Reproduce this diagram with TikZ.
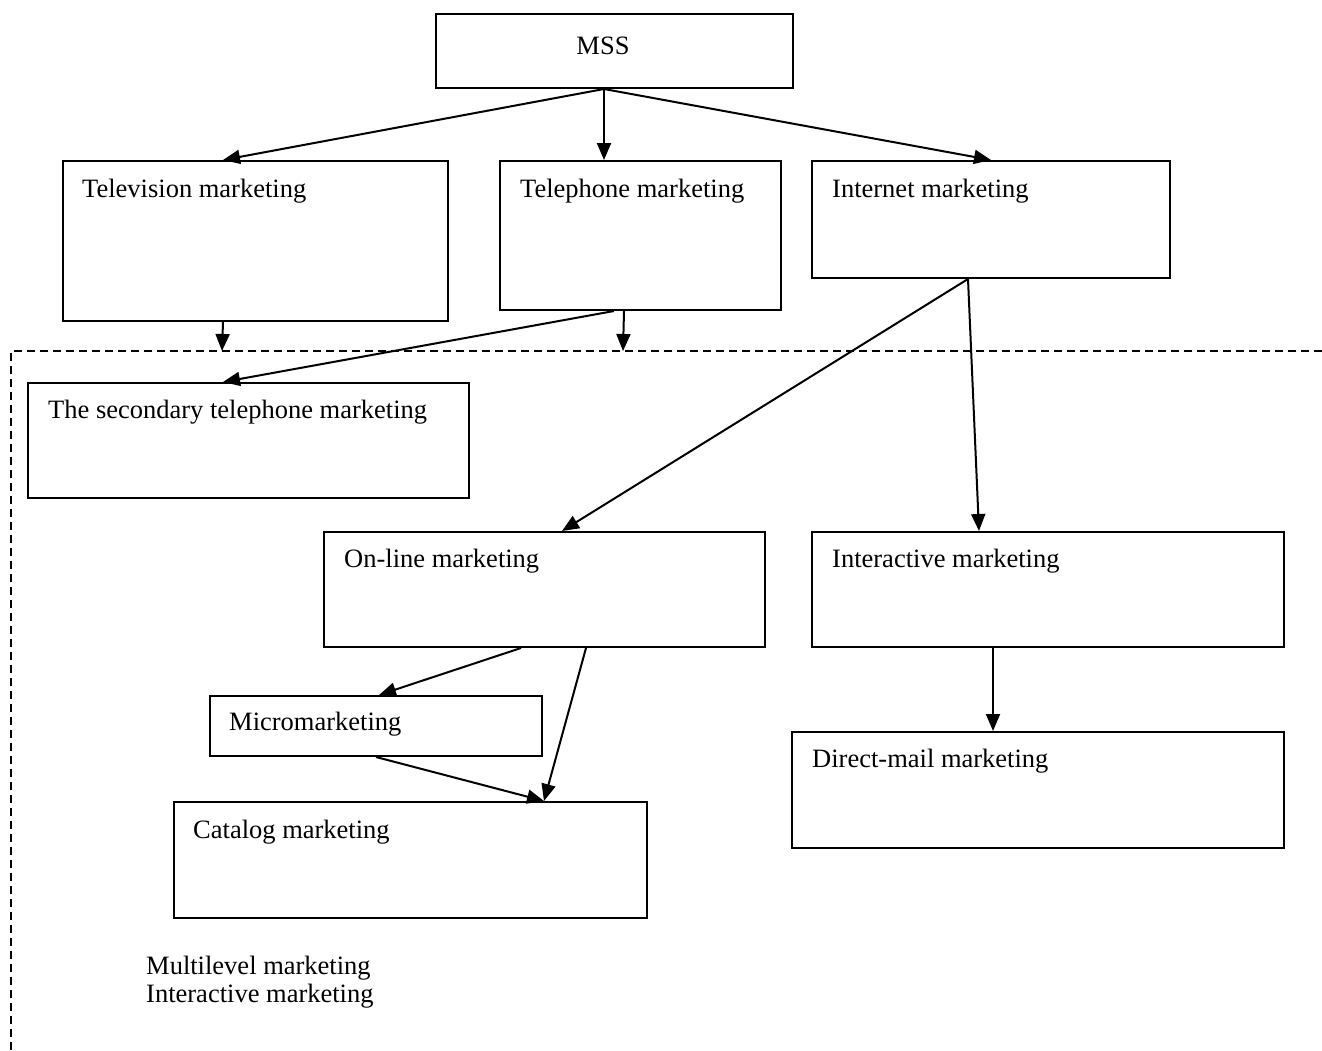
\documentclass[tikz,border=0pt]{standalone}
\usepackage{fontspec}
\setmainfont{Liberation Serif}
\usetikzlibrary{arrows.meta}
\begin{document}
\begin{tikzpicture}[x=1pt,y=-1pt,
  box/.style={draw,line width=2pt,rectangle,anchor=north west,inner sep=0pt},
  lbl/.style={anchor=base west,inner sep=0pt,font=\fontsize{26.5}{31}\selectfont},
  arr/.style={line width=2pt,-{Triangle[length=17pt,width=14pt]}},
  sep/.style={line width=2pt,dash pattern=on 8pt off 5pt}]
\useasboundingbox (0,0) rectangle (1322,1050);
% boxes
\node[box,minimum width=357pt,minimum height=74pt] (mss) at (435,13) {};
\node[box,minimum width=385pt,minimum height=160pt] (tv) at (62,160) {};
\node[box,minimum width=281pt,minimum height=149pt] (tel) at (499,160) {};
\node[box,minimum width=358pt,minimum height=117pt] (inet) at (811,160) {};
\node[box,minimum width=441pt,minimum height=115pt] (sec) at (27,382) {};
\node[box,minimum width=441pt,minimum height=115pt] (onl) at (323,531) {};
\node[box,minimum width=472pt,minimum height=115pt] (inter) at (811,531) {};
\node[box,minimum width=332pt,minimum height=60pt] (micro) at (209,695) {};
\node[box,minimum width=492pt,minimum height=116pt] (direct) at (791,731) {};
\node[box,minimum width=473pt,minimum height=116pt] (cat) at (173,801) {};
% labels
\node[lbl,anchor=base] (tmss) at (603,54) {MSS};
\node[lbl] (ttv) at (82,197) {Television marketing};
\node[lbl] (ttel) at (520,197) {Telephone marketing};
\node[lbl] (tinet) at (832,197) {Internet marketing};
\node[lbl] (tsec) at (48,418) {The secondary telephone marketing};
\node[lbl] (tonl) at (344,567) {On-line marketing};
\node[lbl] (tinter) at (832,567) {Interactive marketing};
\node[lbl] (tmicro) at (229,730) {Micromarketing};
\node[lbl] (tdirect) at (812,767) {Direct-mail marketing};
\node[lbl] (tcat) at (193,838) {Catalog marketing};
\node[lbl] (tml) at (146,974) {Multilevel marketing};
\node[lbl] (tim) at (146,1002) {Interactive marketing};
% dashed boundary
\coordinate (dc) at (11,351);
\coordinate (dr) at (1322,351);
\coordinate (db) at (11,1050);
\draw[sep] (dr) -- (dc) -- (db);
\coordinate (tvd) at (222,351);
\coordinate (teld) at (623,351);
% connectors
\draw[arr] ([xshift=-10.5pt]mss.south) -- ([xshift=-32.5pt]tv.north);
\draw[arr] ([xshift=-10.5pt]mss.south) -- ([xshift=-36.5pt]tel.north);
\draw[arr] ([xshift=-10.5pt]mss.south) -- (inet.north);
\draw[arr] ([xshift=-32.5pt]tv.south) -- (tvd);
\draw[arr] ([xshift=-16.5pt]tel.south) -- (teld);
\draw[arr] ([xshift=-26.5pt]tel.south) -- ([xshift=-25.5pt]sec.north);
\draw[arr] ([xshift=-23pt]inet.south) -- ([xshift=17.5pt]onl.north);
\draw[arr] ([xshift=-23pt]inet.south) -- ([xshift=-69pt]inter.north);
\draw[arr] ([xshift=-23.5pt]onl.south) -- ([xshift=3pt]micro.north);
\draw[arr] ([xshift=41.5pt]onl.south) -- ([xshift=133.5pt]cat.north);
\draw[arr] (micro.south) -- ([xshift=133.5pt]cat.north);
\draw[arr] ([xshift=-55pt]inter.south) -- ([xshift=-45pt]direct.north);
\end{tikzpicture}
\end{document}
